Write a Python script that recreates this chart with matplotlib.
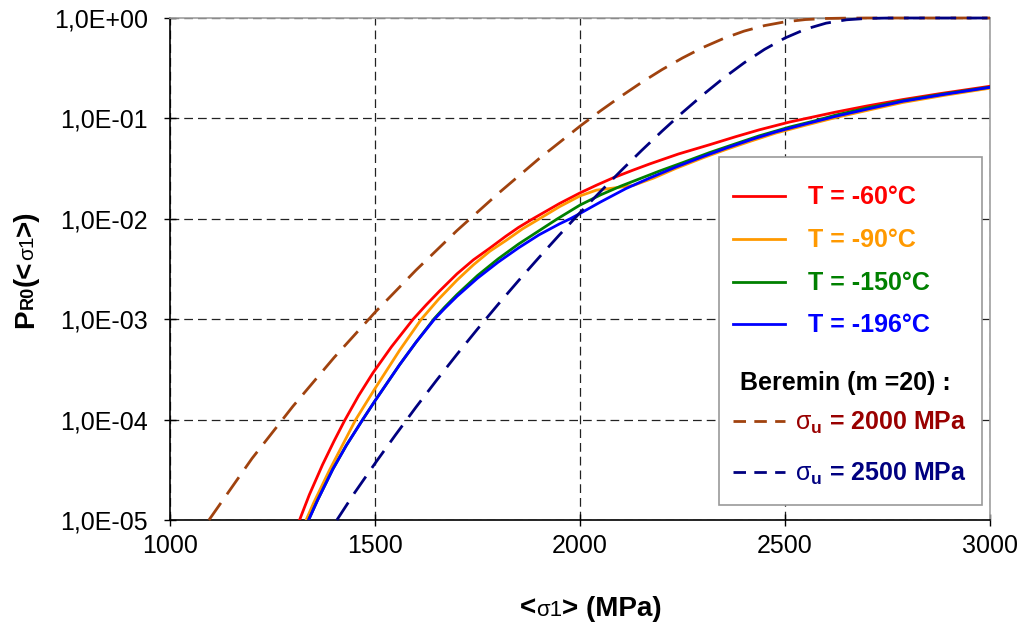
import matplotlib
matplotlib.use('Agg')
import matplotlib.pyplot as plt
from matplotlib.patches import Rectangle
from matplotlib.ticker import NullLocator

plt.rcParams['font.family'] = ['Liberation Sans', 'DejaVu Sans']
plt.rcParams['mathtext.fontset'] = 'custom'
plt.rcParams['mathtext.rm'] = 'Liberation Sans'
plt.rcParams['mathtext.bf'] = 'Liberation Sans:bold'
plt.rcParams['mathtext.it'] = 'Liberation Sans:italic'

# values: <sigma1> (MPa) and P_R0
red_s = [1316, 1340, 1372, 1400, 1426, 1460, 1495, 1540, 1593, 1625, 1657, 1700, 1740,
         1780, 1819, 1850, 1885, 1950, 2000, 2040, 2080, 2130, 2170, 2240, 2315, 2380,
         2437, 2511, 2624, 2700, 2787, 2880, 3000]
red_p = [1.0e-5, 1.79e-5, 3.55e-5, 6.1e-5, 9.8e-5, 1.73e-4, 2.92e-4, 5.3e-4, 1.0e-3,
         1.39e-3, 1.9e-3, 2.83e-3, 3.9e-3, 5.1e-3, 6.7e-3, 8.2e-3, 1.0e-2, 1.42e-2,
         1.81e-2, 2.16e-2, 2.55e-2, 3.06e-2, 3.52e-2, 4.42e-2, 5.45e-2, 6.58e-2,
         7.69e-2, 9.2e-2, 0.1156, 0.133, 0.154, 0.177, 0.209]

orange_s = [1332, 1350, 1388, 1420, 1453, 1499, 1560, 1613, 1655, 1700, 1740, 1780,
            1820, 1860, 1901, 1950, 2000, 2040, 2080, 2130, 2180, 2234, 2300, 2356,
            2420, 2478, 2550, 2624, 2700, 2787, 2890, 3000]
orange_p = [1.0e-5, 1.47e-5, 3.08e-5, 5.5e-5, 1.0e-4, 2.01e-4, 4.9e-4, 1.0e-3, 1.58e-3,
            2.45e-3, 3.48e-3, 4.75e-3, 6.1e-3, 7.95e-3, 1.0e-2, 1.32e-2, 1.69e-2,
            1.93e-2, 2.02e-2, 2.15e-2, 2.55e-2, 3.18e-2, 4.05e-2, 4.9e-2, 6.0e-2,
            7.15e-2, 8.55e-2, 0.102, 0.120, 0.144, 0.170, 0.200]

green_s = [1338, 1360, 1397, 1430, 1470, 1501, 1560, 1600, 1645, 1670, 1700, 1750,
           1800, 1850, 1900, 1945, 2000, 2050, 2100, 2193, 2250, 2315, 2380, 2437,
           2511, 2570, 2624, 2700, 2787, 2890, 3000]
green_p = [1.0e-5, 1.58e-5, 3.2e-5, 5.53e-5, 1.0e-4, 1.56e-4, 3.52e-4, 5.89e-4, 1.02e-3,
           1.32e-3, 1.76e-3, 2.72e-3, 3.98e-3, 5.6e-3, 7.6e-3, 1.0e-2, 1.37e-2,
           1.73e-2, 2.12e-2, 2.98e-2, 3.62e-2, 4.55e-2, 5.6e-2, 6.7e-2, 8.2e-2,
           9.4e-2, 0.108, 0.127, 0.150, 0.176, 0.205]

blue_s = [1338, 1360, 1397, 1430, 1470, 1501, 1560, 1600, 1645, 1670, 1700, 1750,
          1800, 1850, 1900, 1950, 1976, 2000, 2050, 2112, 2170, 2234, 2300, 2356,
          2420, 2478, 2550, 2624, 2700, 2787, 2890, 3000]
blue_p = [1.0e-5, 1.58e-5, 3.2e-5, 5.53e-5, 1.0e-4, 1.56e-4, 3.52e-4, 5.89e-4, 1.0e-3,
          1.28e-3, 1.69e-3, 2.56e-3, 3.69e-3, 5.13e-3, 6.92e-3, 8.9e-3, 1.0e-2,
          1.13e-2, 1.47e-2, 2.0e-2, 2.55e-2, 3.28e-2, 4.17e-2, 5.05e-2, 6.2e-2,
          7.35e-2, 8.8e-2, 0.105, 0.1236, 0.148, 0.174, 0.204]

# Beremin, m = 20
beremin2000_s = [1095, 1200, 1300, 1400, 1500, 1600, 1700, 1800, 1900, 2000, 2050,
                 2100, 2150, 2200, 2250, 2300, 2350, 2400, 2450, 2500, 2550, 2600,
                 2650, 2700, 2800, 3000]
beremin2000_p = [1.0e-5, 4.1e-5, 1.36e-4, 4.14e-4, 1.17e-3, 3.08e-3, 7.64e-3, 1.78e-2,
                 3.97e-2, 8.37e-2, 0.119, 0.166, 0.228, 0.306, 0.400, 0.509, 0.625,
                 0.740, 0.840, 0.916, 0.965, 0.989, 0.997, 1.0, 1.0, 1.0]

beremin2500_s = [1407, 1450, 1500, 1550, 1600, 1650, 1700, 1750, 1800, 1850, 1900,
                 1950, 2000, 2050, 2100, 2150, 2200, 2250, 2300, 2350, 2400, 2450,
                 2500, 2550, 2600, 2650, 2700, 2750, 2800, 3000]
beremin2500_p = [1.0e-5, 1.86e-5, 3.66e-5, 7.04e-5, 1.33e-4, 2.46e-4, 4.47e-4, 7.98e-4,
                 1.40e-3, 2.42e-3, 4.12e-3, 6.93e-3, 1.15e-2, 1.87e-2, 3.01e-2, 4.78e-2,
                 7.46e-2, 0.1145, 0.172, 0.252, 0.357, 0.487, 0.632, 0.774, 0.888,
                 0.960, 0.9905, 0.999, 1.0, 1.0]

x_ticks = [1000, 1500, 2000, 2500, 3000]
y_ticks = [1e-5, 1e-4, 1e-3, 1e-2, 1e-1, 1e0]
y_tick_labels = ['1,0E-05', '1,0E-04', '1,0E-03', '1,0E-02', '1,0E-01', '1,0E+00']

temp_labels = ['T = -60°C', 'T = -90°C', 'T = -150°C', 'T = -196°C']
temp_colors = ['#FF0000', '#FF9900', '#008000', '#0000FF']
beremin_labels = [r'$\mathrm{σ}_{\mathbf{u}}$ = 2000 MPa', r'$\mathrm{σ}_{\mathbf{u}}$ = 2500 MPa']
beremin_colors = ['#A0420E', '#000080']
beremin_text_colors = ['#990000', '#000080']

W, H = 1024, 623
fig = plt.figure(figsize=(W / 100, H / 100), dpi=100)
ax = fig.add_axes([170 / W, 1 - 520 / H, 820 / W, 502 / H])

solid = [(red_s, red_p), (orange_s, orange_p), (green_s, green_p), (blue_s, blue_p)]
for (s, p), c in zip(solid, temp_colors):
    ax.plot(s, p, color=c, lw=2.0, zorder=3)
dashed = [(beremin2000_s, beremin2000_p), (beremin2500_s, beremin2500_p)]
for (s, p), c in zip(dashed, beremin_colors):
    ax.plot(s, p, color=c, lw=2.0, linestyle=(0, (7.5, 3.8)), zorder=4, clip_on=False)

ax.set_yscale('log')
ax.set_xlim(1000, 3000)
ax.set_ylim(1e-5, 1)
ax.set_xticks(x_ticks)
ax.set_xticklabels([str(v) for v in x_ticks])
ax.set_yticks(y_ticks)
ax.set_yticklabels(y_tick_labels)
ax.yaxis.set_minor_locator(NullLocator())
ax.tick_params(axis='both', direction='inout', length=8, width=1, labelsize=18)
ax.tick_params(axis='y', pad=12)
ax.tick_params(axis='x', pad=6)
ax.grid(True, color='#222222', linestyle=(0, (7, 4)), lw=0.9, zorder=1)
ax.set_axisbelow(True)
for side in ['left', 'bottom']:
    ax.spines[side].set_color('black')
    ax.spines[side].set_linewidth(1.2)
for side in ['top', 'right']:
    ax.spines[side].set_color('#a0a0a0')
    ax.spines[side].set_linewidth(1.2)


# legend drawn by hand (pixel positions of the original picture)
def axc(px, py):
    return (px - 170) / 820, (520 - py) / 502


x0, y0 = axc(719, 505)
x1, y1 = axc(982, 157)
ax.add_patch(Rectangle((x0, y0), x1 - x0, y1 - y0, transform=ax.transAxes,
                       facecolor='white', edgecolor='#999999', lw=1.2, zorder=6, clip_on=False))
hx0, _ = axc(733, 0)
hx1, _ = axc(785, 0)
for lab, c, py in zip(temp_labels, temp_colors, [196, 239, 282, 324]):
    _, yy = axc(0, py)
    ax.plot([hx0, hx1], [yy, yy], transform=ax.transAxes, color=c, lw=2.0, zorder=7, clip_on=False)
    tx, ty = axc(808, py + 8)
    ax.text(tx, ty, lab, transform=ax.transAxes, color=c, fontsize=18, fontweight='bold',
            va='baseline', ha='left', zorder=8)
bx, by = axc(740, 390)
ax.text(bx, by, 'Beremin (m =20) :', transform=ax.transAxes, color='black', fontsize=18,
        fontweight='bold', va='baseline', ha='left', zorder=8)
for lab, c, tc, py in zip(beremin_labels, beremin_colors, beremin_text_colors, [421, 472]):
    _, yy = axc(0, py)
    ax.plot([hx0, hx1], [yy, yy], transform=ax.transAxes, color=c, lw=2.0,
            linestyle=(0, (4.5, 3)), zorder=7, clip_on=False)
    tx, ty = axc(795, py + 9)
    ax.text(tx, ty, lab, transform=ax.transAxes, color=tc, fontsize=18, fontweight='bold',
            va='baseline', ha='left', zorder=8)


# axis titles built from pieces so that the small sigma/subscripts sit on the baseline
def chain_text(pieces, cx, cy, rotation=0):
    renderer = fig.canvas.get_renderer()
    items = []
    total = 0
    for s, size, weight in pieces:
        t = fig.text(0, 0, s, fontsize=size, fontweight=weight, rotation=rotation,
                     rotation_mode='anchor', ha='left', va='baseline')
        bb = t.get_window_extent(renderer)
        w = bb.width if rotation == 0 else bb.height
        items.append((t, w))
        total += w
    pos = -total / 2
    for t, w in items:
        if rotation == 0:
            t.set_position(((cx + pos) / W, 1 - cy / H))
        else:
            t.set_position((cx / W, 1 - (cy - pos) / H))
        pos += w


chain_text([('<', 20, 'bold'), ('σ1', 16, 'normal'), ('> (MPa)', 20, 'bold')], 591, 616)
chain_text([('P', 20, 'bold'), ('R0', 13, 'bold'), ('(<', 20, 'bold'), ('σ1', 15, 'normal'),
            ('>)', 20, 'bold')], 33, 269, rotation=90)

fig.savefig('out.png', dpi=100)
